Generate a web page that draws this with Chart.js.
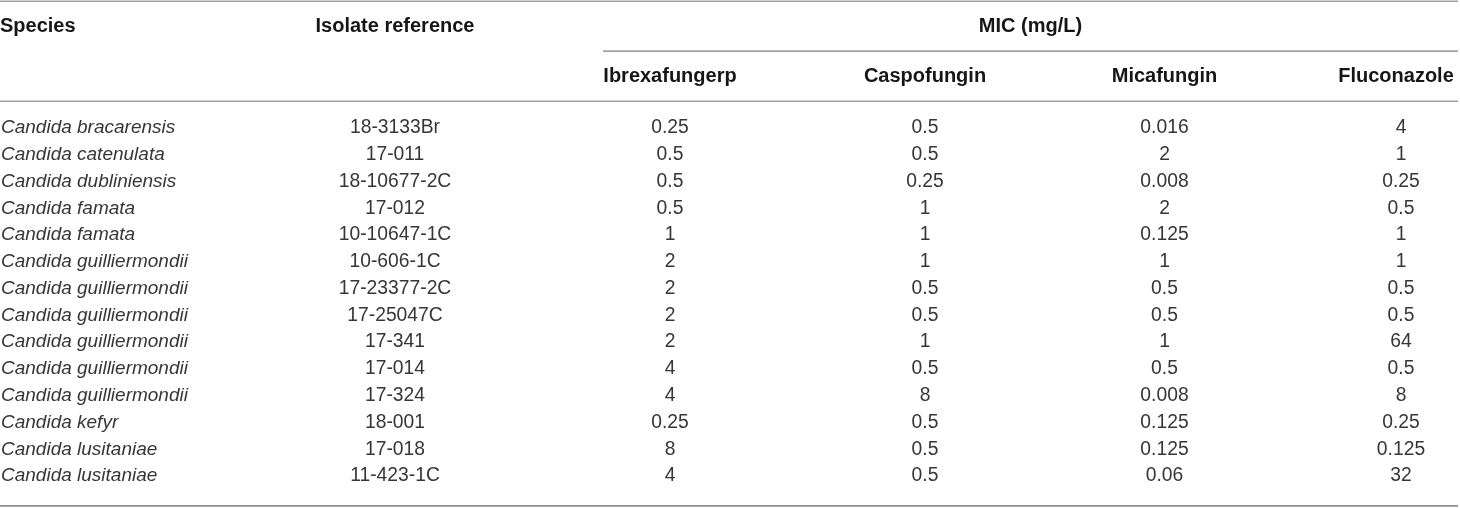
<!DOCTYPE html>
<html>
<head>
<meta charset="utf-8">
<script src="https://cdn.jsdelivr.net/npm/chart.js@4.4.1/dist/chart.umd.min.js"></script>
<style>
  html, body { margin: 0; padding: 0; background: #ffffff; }
  #wrap { width: 1460px; height: 508px; position: relative; }
</style>
</head>
<body>
<div id="wrap"><canvas id="c" width="1460" height="508"></canvas></div>
<script>
// ---- data ----
const species = [
  "Candida bracarensis", "Candida catenulata", "Candida dubliniensis", "Candida famata",
  "Candida famata", "Candida guilliermondii", "Candida guilliermondii", "Candida guilliermondii",
  "Candida guilliermondii", "Candida guilliermondii", "Candida guilliermondii", "Candida kefyr",
  "Candida lusitaniae", "Candida lusitaniae"
];
const isolates = [
  "18-3133Br", "17-011", "18-10677-2C", "17-012", "10-10647-1C", "10-606-1C", "17-23377-2C",
  "17-25047C", "17-341", "17-014", "17-324", "18-001", "17-018", "11-423-1C"
];
const ibrexafungerp = ["0.25", "0.5", "0.5", "0.5", "1", "2", "2", "2", "2", "4", "4", "0.25", "8", "4"];
const caspofungin   = ["0.5", "0.5", "0.25", "1", "1", "1", "0.5", "0.5", "1", "0.5", "8", "0.5", "0.5", "0.5"];
const micafungin    = ["0.016", "2", "0.008", "2", "0.125", "1", "0.5", "0.5", "1", "0.5", "0.008", "0.125", "0.125", "0.06"];
const fluconazole   = ["4", "1", "0.25", "0.5", "1", "1", "0.5", "0.5", "64", "0.5", "8", "0.25", "0.125", "32"];
const headerTop = ["Species", "Isolate reference", "MIC (mg/L)"];
const drugHeaders = ["Ibrexafungerp", "Caspofungin", "Micafungin", "Fluconazole"];

// ---- layout (not data) ----
const colCenters = [1, 395, 670, 925, 1164.5, 1401];   // x-scale units
const drugHeaderCenters = [670, 925, 1164.5, 1396];
const micSpan = [603, 1458];
const tableRight = 1458;
const FONT = '"Liberation Sans", Arial, Helvetica, sans-serif';

const columns = [species, isolates, ibrexafungerp, caspofungin, micafungin, fluconazole];

const tablePlugin = {
  id: 'tableDraw',
  afterDraw(chart) {
    const ctx = chart.ctx;
    const xs = chart.scales.x, ys = chart.scales.y;
    const X = v => xs.getPixelForValue(v);
    const rowY = i => ys.getPixelForValue(i);
    const top = chart.chartArea.top;
    const bottom = chart.chartArea.bottom;

    ctx.save();
    // rules
    ctx.strokeStyle = '#a3a3a3';
    ctx.lineWidth = 1.6;
    const hline = (x0, x1, y) => { ctx.beginPath(); ctx.moveTo(X(x0), y); ctx.lineTo(X(x1), y); ctx.stroke(); };
    hline(0, tableRight, 1.2);
    hline(micSpan[0], micSpan[1], top - 63);
    hline(0, tableRight, top - 12.8);
    ctx.strokeStyle = '#8f8f8f';
    hline(0, tableRight, bottom + 17);

    // headers
    ctx.fillStyle = '#161616';
    ctx.font = 'bold 20px ' + FONT;
    ctx.textBaseline = 'middle';
    const h1 = top - 87.5, h2 = top - 37.5;
    ctx.textAlign = 'left';
    ctx.fillText(headerTop[0], X(0), h1);
    ctx.textAlign = 'center';
    ctx.fillText(headerTop[1], X(colCenters[1]), h1);
    ctx.fillText(headerTop[2], X((micSpan[0] + micSpan[1]) / 2), h1);
    drugHeaders.forEach((h, j) => ctx.fillText(h, X(drugHeaderCenters[j]), h2));

    // body
    ctx.fillStyle = '#363636';
    for (let i = 0; i < species.length; i++) {
      const y = rowY(i) + 0.5;
      ctx.font = 'italic 19px ' + FONT;
      ctx.textAlign = 'left';
      ctx.fillText(columns[0][i], X(colCenters[0]), y);
      ctx.font = '19.3px ' + FONT;
      ctx.textAlign = 'center';
      for (let c = 1; c < columns.length; c++) {
        ctx.fillText(columns[c][i], X(colCenters[c]), y);
      }
    }
    ctx.restore();
  }
};

new Chart(document.getElementById('c'), {
  type: 'scatter',
  data: { labels: species.map((s, i) => i), datasets: [] },
  options: {
    responsive: false,
    animation: false,
    devicePixelRatio: 1,
    layout: { padding: { top: 114.1, bottom: 19.1, left: 0, right: 0 } },
    plugins: { legend: { display: false }, tooltip: { enabled: false } },
    scales: {
      x: { type: 'linear', min: 0, max: 1460, display: false },
      y: { type: 'category', labels: species.map((s, i) => i), offset: true, display: false }
    }
  },
  plugins: [tablePlugin]
});
</script>
</body>
</html>
